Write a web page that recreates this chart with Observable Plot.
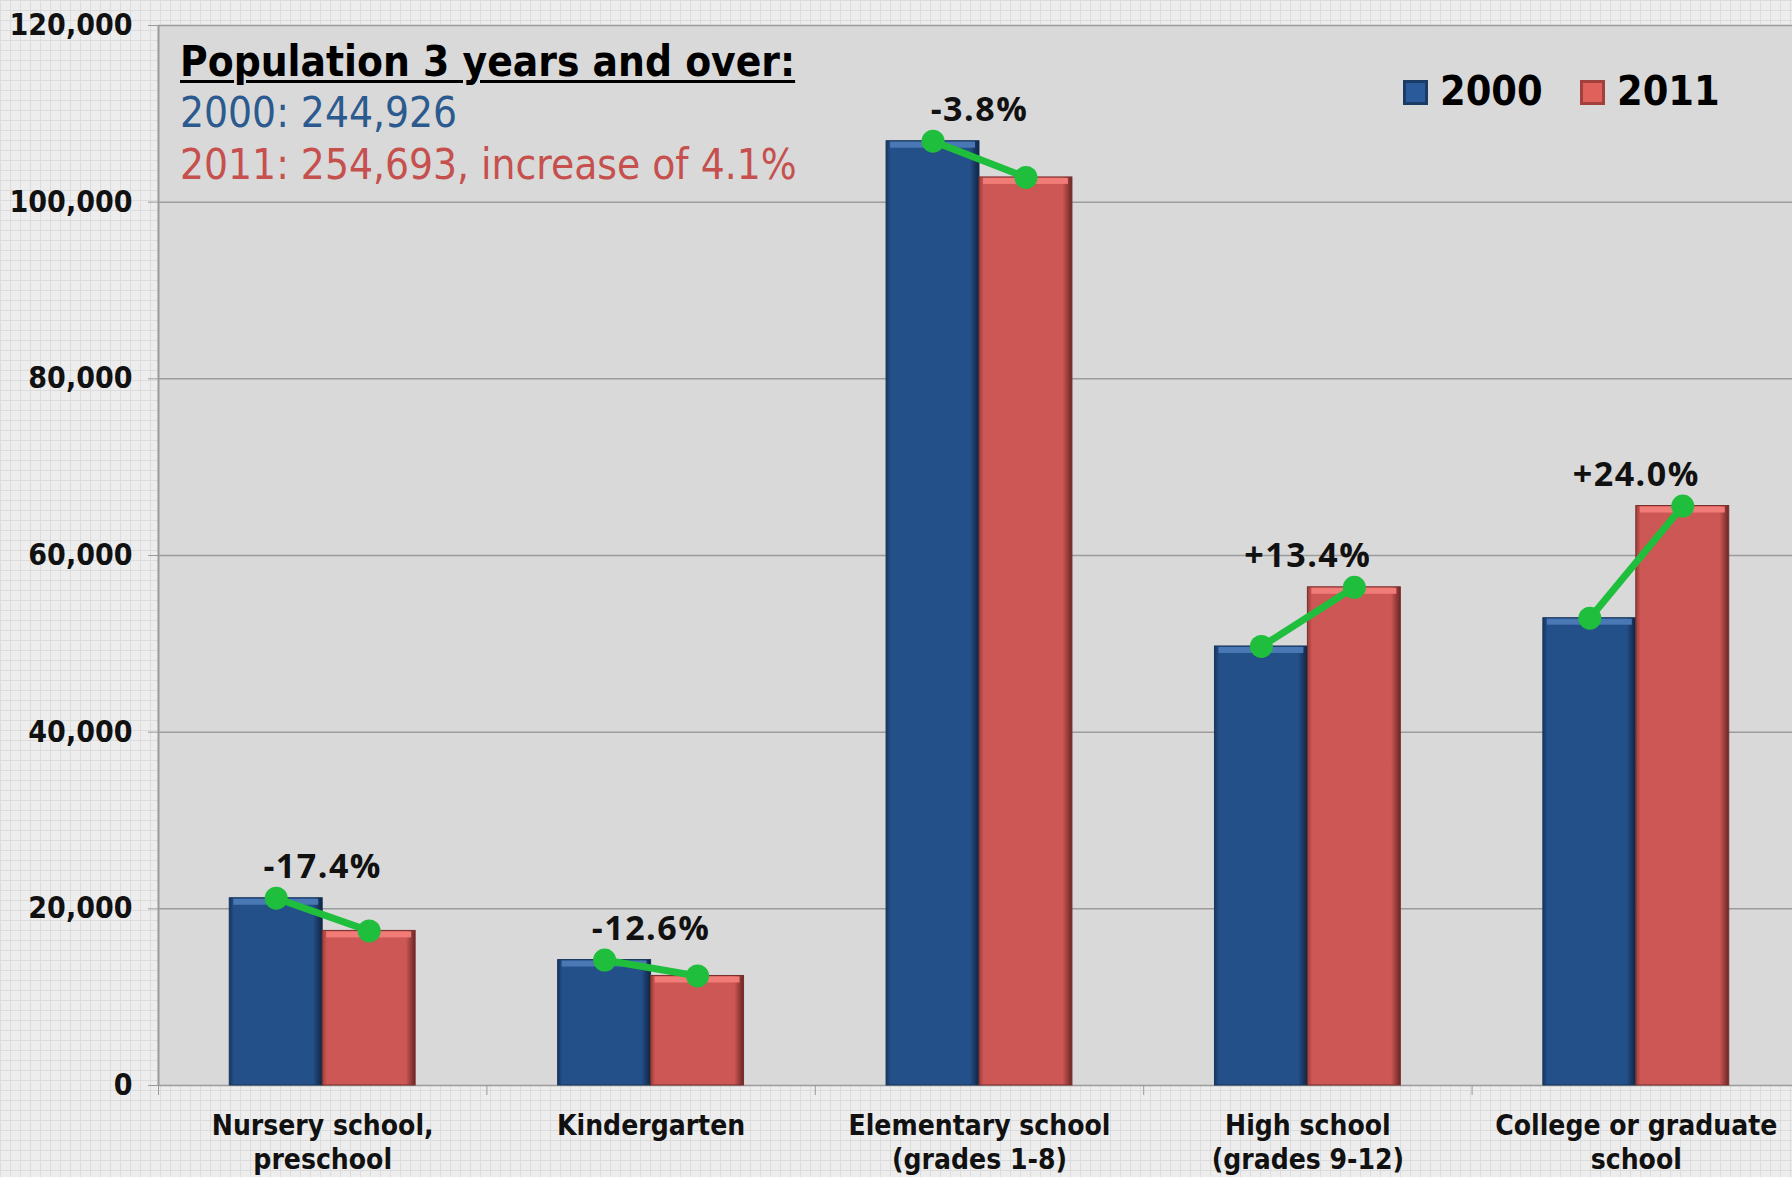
<!DOCTYPE html>
<html><head><meta charset="utf-8">
<script src="https://cdn.jsdelivr.net/npm/d3@7"></script>
<script src="https://cdn.jsdelivr.net/npm/@observablehq/plot@0.6"></script>
<style>
html,body{margin:0;padding:0;}
body{width:1792px;height:1177px;overflow:hidden;background-color:#ededed;
 background-image:linear-gradient(#dcdcdc 1px,transparent 1px),linear-gradient(90deg,#dcdcdc 1px,transparent 1px);
 background-size:10px 10px;}
#wrap{position:relative;width:1792px;height:1177px;}
#wrap svg{position:absolute;left:0;top:0;}
.ov{position:absolute;white-space:nowrap;line-height:1;}
.cond{font-family:"DejaVu Sans Condensed","DejaVu Sans",sans-serif;font-stretch:condensed;}
.sq{position:absolute;width:25px;height:25px;box-sizing:border-box;}
</style></head><body><div id="wrap"></div>
<script>
// ---- data ----
const categories = ["Nursery school,\npreschool", "Kindergarten", "Elementary school\n(grades 1-8)", "High school\n(grades 9-12)", "College or graduate\nschool"];
const years = ["2000", "2011"];
const pop2000 = [21200, 14200, 106900, 49700, 52900];
const pop2011 = [17500, 12400, 102800, 56400, 65600];
const changeLabels = ["-17.4%", "-12.6%", "-3.8%", "+13.4%", "+24.0%"];
const yTicks = [0, 20000, 40000, 60000, 80000, 100000, 120000];
const titleText = "Population 3 years and over:";
const total2000Text = "2000: 244,926";
const total2011Text = "2011: 254,693, increase of 4.1%";

// ---- build tables ----
const barFrac = 0.283;
const bars = [];
categories.forEach((c, i) => {
  bars.push({i, year: years[0], x1: i - barFrac, x2: i, v: pop2000[i]});
  bars.push({i, year: years[1], x1: i, x2: i + barFrac, v: pop2011[i]});
});
const bars2000 = bars.filter(d => d.year === years[0]);
const bars2011 = bars.filter(d => d.year === years[1]);
const pts = bars.map(d => ({i: d.i, x: (d.x1 + d.x2) / 2, v: d.v}));
const labels = categories.map((c, i) => ({i, v: Math.max(pop2000[i], pop2011[i]), t: changeLabels[i]}));
const idx = categories.map((_, i) => i);
const bounds = idx.map(i => i - 0.5).concat([categories.length - 0.5]);

const condFont = "DejaVu Sans Condensed, DejaVu Sans, sans-serif";
const green = "#1fbe3c";

const defs = () => {
  const d = d3.create("svg:defs");
  const mk = (id, stops) => {
    const g = d.append("linearGradient").attr("id", id).attr("x1", 0).attr("x2", 1).attr("y1", 0).attr("y2", 0);
    stops.forEach(([o, c]) => g.append("stop").attr("offset", o).attr("stop-color", c));
  };
  mk("gBlue", [[0, "#17365c"], [0.05, "#24508a"], [0.9, "#24508a"], [1, "#0f2440"]]);
  mk("gRed", [[0, "#9a3d3a"], [0.05, "#cd5754"], [0.9, "#cd5754"], [1, "#6a2725"]]);
  return d.node();
};

const chart = Plot.plot({
  width: 1792, height: 1177,
  marginLeft: 158, marginRight: 0, marginTop: 25, marginBottom: 92,
  style: {background: "transparent", overflow: "hidden"},
  x: {type: "linear", domain: [-0.5, 4.5], range: [158, 1800], label: null},
  y: {domain: [0, 120000], label: null},
  marks: [
    defs,
    Plot.frame({fill: "#d9d9d9", stroke: null}),
    Plot.gridY(yTicks, {stroke: "#9c9c9c", strokeOpacity: 1, strokeWidth: 1.5}),
    Plot.ruleX([-0.5], {stroke: "#9a9a9a", strokeWidth: 2}),
    Plot.axisY({ticks: yTicks, tickFormat: d3.format(","), tickSize: 10, tickPadding: 16,
      fontSize: 30, fontWeight: "bold", fontFamily: condFont, stroke: "#9a9a9a", fill: "#111"}),
    Plot.axisX({ticks: idx, tickFormat: i => categories[i], tickSize: 0, tickPadding: 25,
      fontSize: 28, fontWeight: "bold", fontFamily: condFont, lineHeight: 1.22, fill: "#111"}),
    Plot.axisX({ticks: bounds, tickFormat: () => "", tickSize: 10, stroke: "#9a9a9a"}),
    Plot.rect(bars2000, {x1: "x1", x2: "x2", y1: 0, y2: "v", fill: "url(#gBlue)", stroke: "#173559", strokeWidth: 1}),
    Plot.rect(bars2011, {x1: "x1", x2: "x2", y1: 0, y2: "v", fill: "url(#gRed)", stroke: "#7a2e2c", strokeWidth: 1}),
    Plot.rect(bars2000, {x1: "x1", x2: "x2", y1: "v", y2: "v", insetLeft: 4, insetRight: 4, insetTop: 1, insetBottom: -7, fill: "#4a78b4"}),
    Plot.rect(bars2011, {x1: "x1", x2: "x2", y1: "v", y2: "v", insetLeft: 4, insetRight: 4, insetTop: 1, insetBottom: -7, fill: "#f07b77"}),
    Plot.line(pts, {x: "x", y: "v", z: "i", stroke: green, strokeWidth: 7}),
    Plot.dot(pts, {x: "x", y: "v", r: 11.5, fill: green, stroke: null}),
    Plot.text(labels, {x: "i", y: "v", text: "t", dy: -31, fontSize: 34, fontWeight: 700,
      fontFamily: "Open Sans, sans-serif", fill: "#111", letterSpacing: "1.5px"})
  ]
});

const wrap = document.getElementById("wrap");
wrap.appendChild(chart);
// letter spacing for percent labels
d3.select(chart).selectAll("text").filter(function() { return changeLabels.includes(this.textContent); })
  .style("letter-spacing", "1.5px");

function ov(text, left, baseline, size, cls, style) {
  const el = document.createElement("div");
  el.className = "ov " + cls;
  el.textContent = text;
  el.style.left = left + "px";
  el.style.top = (baseline - 0.846 * size) + "px";
  el.style.fontSize = size + "px";
  Object.assign(el.style, style || {});
  wrap.appendChild(el);
  return el;
}
ov(titleText, 180, 77, 42, "cond", {fontWeight: "bold", color: "#000", textDecoration: "underline", textDecorationThickness: "3px", textUnderlineOffset: "4px"});
ov(total2000Text, 180, 128, 42, "cond", {color: "#2b5a8f"});
ov(total2011Text, 180, 179.5, 42, "cond", {color: "#c5504d"});

function sq(left, top, c1, c2) {
  const el = document.createElement("div");
  el.className = "sq";
  el.style.left = left + "px"; el.style.top = top + "px";
  el.style.background = c1;
  el.style.boxShadow = "inset 0 0 0 3px " + c2;
  wrap.appendChild(el);
}
sq(1403, 80, "#2a5a99", "#1a3b66");
ov(years[0], 1440, 106, 41, "cond", {fontWeight: "bold", color: "#000"});
sq(1580, 80, "#e0605c", "#a2403d");
ov(years[1], 1617, 106, 41, "cond", {fontWeight: "bold", color: "#000"});
</script></body></html>
